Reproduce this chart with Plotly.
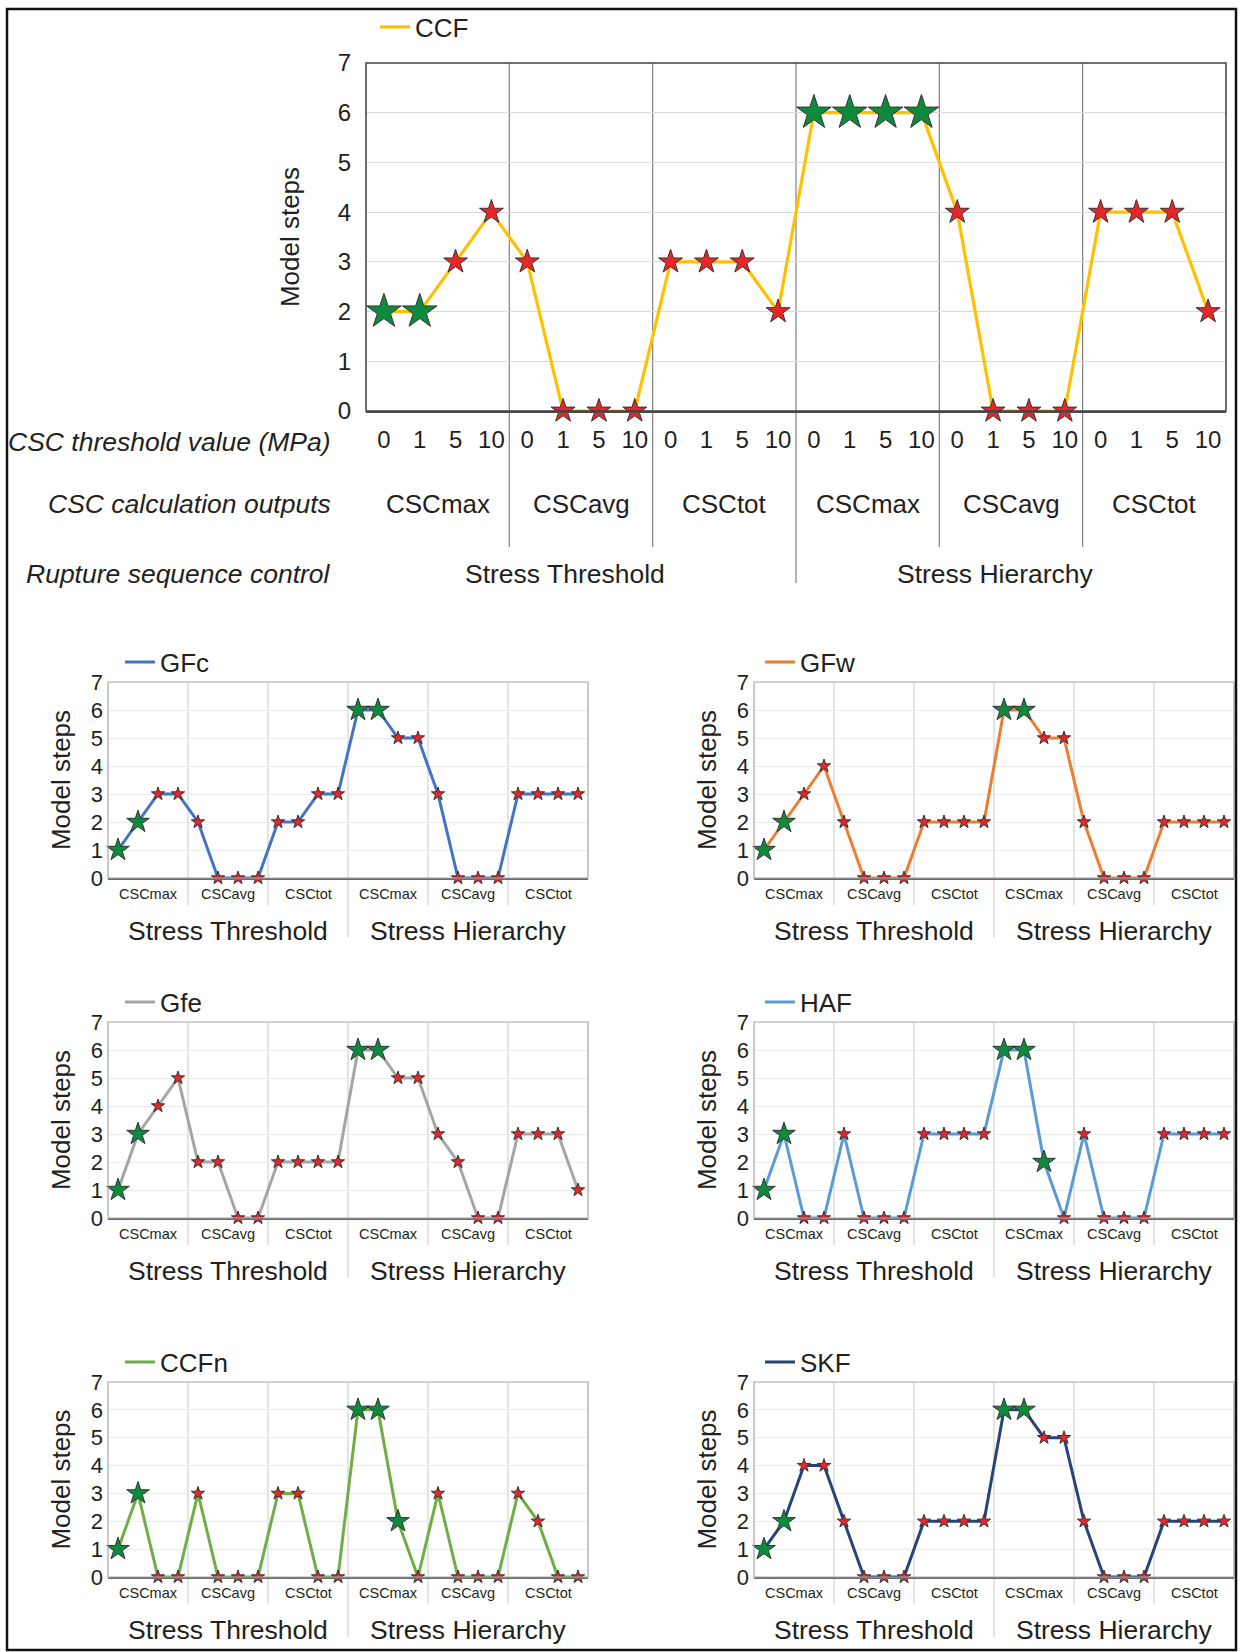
import plotly.graph_objects as go

W, H = 1240, 1652

# ---------------- data ----------------
rupture_controls = ["Stress Threshold", "Stress Hierarchy"]
csc_outputs = ["CSCmax", "CSCavg", "CSCtot"]
thresholds = ["0", "1", "5", "10"]

categories = [f"{r} | {c} | {t}" for r in rupture_controls for c in csc_outputs for t in thresholds]
tick_labels = [t for r in rupture_controls for c in csc_outputs for t in thresholds]

series_names = ["CCF", "GFc", "GFw", "Gfe", "HAF", "CCFn", "SKF"]

ccf_steps  = [2, 2, 3, 4,  3, 0, 0, 0,  3, 3, 3, 2,  6, 6, 6, 6,  4, 0, 0, 0,  4, 4, 4, 2]
ccf_best   = [1, 1, 0, 0,  0, 0, 0, 0,  0, 0, 0, 0,  1, 1, 1, 1,  0, 0, 0, 0,  0, 0, 0, 0]

gfc_steps  = [1, 2, 3, 3,  2, 0, 0, 0,  2, 2, 3, 3,  6, 6, 5, 5,  3, 0, 0, 0,  3, 3, 3, 3]
gfc_best   = [1, 1, 0, 0,  0, 0, 0, 0,  0, 0, 0, 0,  1, 1, 0, 0,  0, 0, 0, 0,  0, 0, 0, 0]

gfw_steps  = [1, 2, 3, 4,  2, 0, 0, 0,  2, 2, 2, 2,  6, 6, 5, 5,  2, 0, 0, 0,  2, 2, 2, 2]
gfw_best   = [1, 1, 0, 0,  0, 0, 0, 0,  0, 0, 0, 0,  1, 1, 0, 0,  0, 0, 0, 0,  0, 0, 0, 0]

gfe_steps  = [1, 3, 4, 5,  2, 2, 0, 0,  2, 2, 2, 2,  6, 6, 5, 5,  3, 2, 0, 0,  3, 3, 3, 1]
gfe_best   = [1, 1, 0, 0,  0, 0, 0, 0,  0, 0, 0, 0,  1, 1, 0, 0,  0, 0, 0, 0,  0, 0, 0, 0]

haf_steps  = [1, 3, 0, 0,  3, 0, 0, 0,  3, 3, 3, 3,  6, 6, 2, 0,  3, 0, 0, 0,  3, 3, 3, 3]
haf_best   = [1, 1, 0, 0,  0, 0, 0, 0,  0, 0, 0, 0,  1, 1, 1, 0,  0, 0, 0, 0,  0, 0, 0, 0]

ccfn_steps = [1, 3, 0, 0,  3, 0, 0, 0,  3, 3, 0, 0,  6, 6, 2, 0,  3, 0, 0, 0,  3, 2, 0, 0]
ccfn_best  = [1, 1, 0, 0,  0, 0, 0, 0,  0, 0, 0, 0,  1, 1, 1, 0,  0, 0, 0, 0,  0, 0, 0, 0]

skf_steps  = [1, 2, 4, 4,  2, 0, 0, 0,  2, 2, 2, 2,  6, 6, 5, 5,  2, 0, 0, 0,  2, 2, 2, 2]
skf_best   = [1, 1, 0, 0,  0, 0, 0, 0,  0, 0, 0, 0,  1, 1, 0, 0,  0, 0, 0, 0,  0, 0, 0, 0]

y_ticks = [0, 1, 2, 3, 4, 5, 6, 7]

row_labels = ["CSC threshold value (MPa)", "CSC calculation outputs", "Rupture sequence control"]

# ---------------- styling / layout ----------------
FONT = "Liberation Sans, Arial, Helvetica, sans-serif"
TXT = "#231f20"
GREEN = "#0e8a3c"
RED = "#e8262a"

def px(v):
    return v / W

def py(v):
    return 1 - v / H

panels = [
    dict(steps=ccf_steps,  best=ccf_best,  color="#ffc000", x0=366, x1=1226, top=63,   bot=411,  lx=381, ly=27,   big=True),
    dict(steps=gfc_steps,  best=gfc_best,  color="#4472c4", x0=108, x1=588,  top=682,  bot=878,  lx=126, ly=662,  big=False),
    dict(steps=gfw_steps,  best=gfw_best,  color="#ed7d31", x0=754, x1=1234, top=682,  bot=878,  lx=766, ly=662,  big=False),
    dict(steps=gfe_steps,  best=gfe_best,  color="#a5a5a5", x0=108, x1=588,  top=1022, bot=1218, lx=126, ly=1002, big=False),
    dict(steps=haf_steps,  best=haf_best,  color="#5b9bd5", x0=754, x1=1234, top=1022, bot=1218, lx=766, ly=1002, big=False),
    dict(steps=ccfn_steps, best=ccfn_best, color="#70ad47", x0=108, x1=588,  top=1382, bot=1577, lx=126, ly=1362, big=False),
    dict(steps=skf_steps,  best=skf_best,  color="#264478", x0=754, x1=1234, top=1382, bot=1577, lx=766, ly=1362, big=False),
]

fig = go.Figure()
shapes = []
annotations = []
layout = {}

n_thr = len(thresholds)
n_csc = len(csc_outputs)
n_cat = len(categories)

for i, (name, p) in enumerate(zip(series_names, panels)):
    k = i + 1
    s = "" if k == 1 else str(k)
    xa, ya = "x" + s, "y" + s
    leg = "legend" + s
    big = p["big"]

    # line trace (legend entry)
    fig.add_trace(go.Scatter(
        x=categories, y=p["steps"], mode="lines", name=name,
        line=dict(color=p["color"], width=3.2 if big else 3),
        xaxis=xa, yaxis=ya, legend=leg, showlegend=True, cliponaxis=False,
        hoverinfo="skip"))
    # star markers
    mcol = [GREEN if b else RED for b in p["best"]]
    if big:
        msize = [26 if b else 18 for b in p["best"]]
    else:
        msize = [17 if b else 10 for b in p["best"]]
    fig.add_trace(go.Scatter(
        x=categories, y=p["steps"], mode="markers", name=name,
        marker=dict(symbol="star", color=mcol, size=msize, opacity=1,
                    line=dict(color="#333333", width=1)),
        xaxis=xa, yaxis=ya, showlegend=False, cliponaxis=False))

    layout["xaxis" + s] = dict(
        domain=[px(p["x0"]), px(p["x1"])], anchor=ya, type="category",
        categoryorder="array", categoryarray=categories,
        range=[-0.5, n_cat - 0.5], showgrid=False, zeroline=False,
        showline=True, linecolor="#4d4d4d" if big else "#6b6b6b", linewidth=1.5,
        ticks="", showticklabels=big,
        tickmode="array", tickvals=categories, ticktext=tick_labels,
        tickfont=dict(family=FONT, size=24, color=TXT),
        ticklabelstandoff=6, fixedrange=True)
    layout["yaxis" + s] = dict(
        domain=[py(p["bot"]), py(p["top"])], anchor=xa,
        range=[0, 7], tickmode="array", tickvals=y_ticks,
        showgrid=True, gridcolor="#d9d9d9" if big else "#ebebeb", gridwidth=1,
        zeroline=False, showline=False, ticks="",
        tickfont=dict(family=FONT, size=24 if big else 22, color=TXT),
        ticklabelstandoff=14 if big else 4,
        title=dict(text="Model steps", font=dict(family=FONT, size=26, color=TXT),
                   standoff=30 if big else 12),
        fixedrange=True)
    layout[leg] = dict(
        x=px(p["lx"] - 6), y=py(p["ly"]), xanchor="left", yanchor="middle",
        font=dict(family=FONT, size=26, color=TXT), bgcolor="rgba(0,0,0,0)",
        borderwidth=0, itemwidth=30, itemclick=False, itemdoubleclick=False)

    # plot border
    shapes.append(dict(type="rect", xref=xa + " domain", yref=ya + " domain",
                       x0=0, x1=1, y0=0, y1=1, layer="above",
                       line=dict(color="#404040" if big else "#a6a6a6", width=1.5 if big else 1.2)))

    # group dividers (inside plot and extended below it)
    for g in range(1, len(rupture_controls) * n_csc):
        xb = g * n_thr - 0.5
        central = (g % n_csc == 0)
        if big:
            ext = (583 if central else 547)
        else:
            ext = p["bot"] + (60 if central else 27)
        shapes.append(dict(type="line", xref=xa, yref="paper", x0=xb, x1=xb,
                           y0=py(ext), y1=py(p["top"]), layer="below",
                           line=dict(color="#808080" if big else "#c9c9c9", width=1.2 if big else 1)))

    # CSC output labels
    for r in range(len(rupture_controls)):
        for c, cname in enumerate(csc_outputs):
            xc = (r * n_csc + c) * n_thr + (n_thr - 1) / 2
            annotations.append(dict(
                text=cname, xref=xa, yref="paper", x=xc,
                y=py(504 if big else p["bot"] + 16),
                showarrow=False, xanchor="center", yanchor="middle",
                font=dict(family=FONT, size=26 if big else 14.5, color=TXT)))
        # rupture control labels
        xr = r * n_csc * n_thr + (n_csc * n_thr - 1) / 2
        annotations.append(dict(
            text=rupture_controls[r], xref=xa, yref="paper", x=xr,
            y=py(574 if big else p["bot"] + 53),
            xshift=-16 if big else 0,
            showarrow=False, xanchor="center", yanchor="middle",
            font=dict(family=FONT, size=26.5, color=TXT)))

# row labels of the top chart
for lab, yy in zip(row_labels, [442, 504, 574]):
    annotations.append(dict(
        text="<i>" + lab + "</i>", xref="paper", yref="paper", x=px(333), y=py(yy),
        showarrow=False, xanchor="right", yanchor="middle",
        font=dict(family=FONT, size=26.5, color=TXT)))

# outer frame
shapes.append(dict(type="rect", xref="paper", yref="paper",
                   x0=px(7), x1=px(1236), y0=py(1650), y1=py(9),
                   line=dict(color="#111111", width=2.5), layer="above"))

fig.update_layout(
    width=W, height=H, margin=dict(l=0, r=0, t=0, b=0, autoexpand=False),
    paper_bgcolor="white", plot_bgcolor="rgba(0,0,0,0)",
    font=dict(family=FONT, color=TXT),
    shapes=shapes, annotations=annotations, **layout)

fig.write_html("out.html")
